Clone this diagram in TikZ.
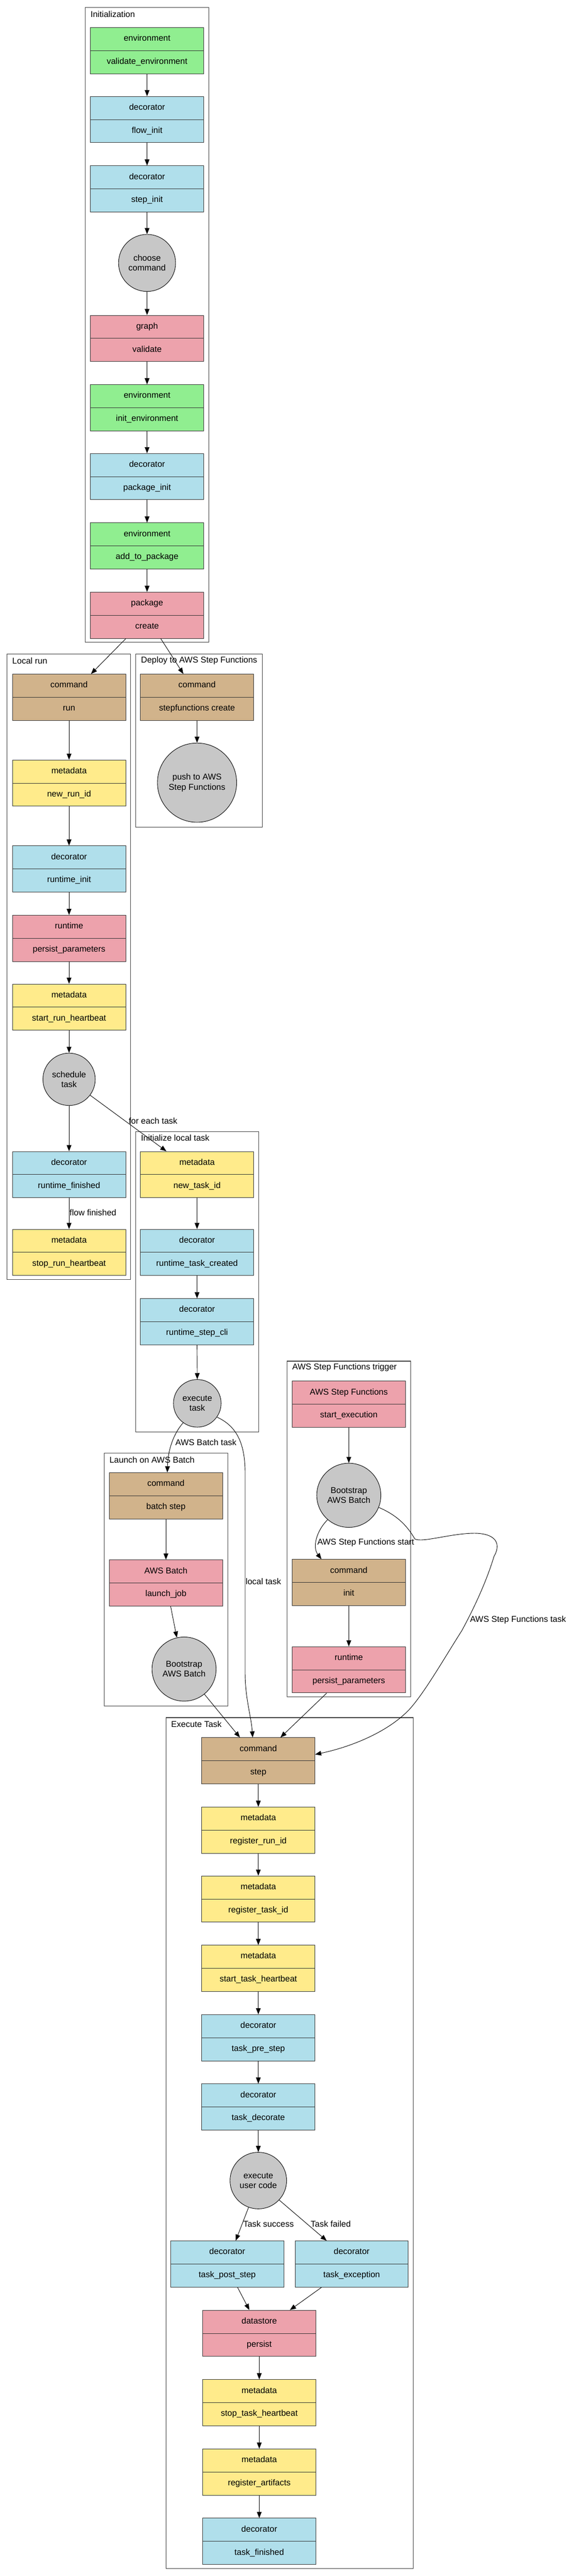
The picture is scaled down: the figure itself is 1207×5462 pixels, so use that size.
\documentclass[tikz,border=0pt]{standalone}
\usepackage{fontspec}
\setmainfont{Liberation Sans}
\usetikzlibrary{arrows.meta,shapes.multipart}

\definecolor{envgreen}{RGB}{144,238,144}
\definecolor{decblue}{RGB}{176,223,235}
\definecolor{rtpink}{RGB}{237,162,172}
\definecolor{cmdtan}{RGB}{209,179,139}
\definecolor{metayellow}{RGB}{255,235,139}
\definecolor{stepgray}{RGB}{199,199,199}

\tikzset{
rec/.style={rectangle split, rectangle split parts=2, draw=black!80, line width=1pt,
  minimum width=240pt, inner xsep=0pt, inner ysep=13.5pt, anchor=north},
act/.style={circle, draw=black, line width=1pt, fill=stepgray, align=center, inner sep=0pt},
flow/.style={-{Triangle[length=13pt,width=10pt]}, line width=1pt},
grp/.style={draw=black!75, line width=1.3pt},
lbl/.style={anchor=west, inner sep=0pt}
}

\begin{document}
\begin{tikzpicture}[x=1pt,y=-1pt,every node/.style={font=\fontsize{18}{21}\selectfont}]
\useasboundingbox (0,0) rectangle (1207,5462);

% clusters
\draw[grp] (181,16) rectangle (443,1362);
\node[lbl] (tInit) at (192,30) {Initialization};
\draw[grp] (15,1387) rectangle (277,2713);
\node[lbl] (tLocal) at (26,1401) {Local run};
\draw[grp] (288,1387) rectangle (557,1754);
\node[lbl] (tDeploy) at (299,1401) {Deploy to AWS Step Functions};
\draw[grp] (288,2399) rectangle (549,3036);
\node[lbl] (tTask) at (299,2413) {Initialize local task};
\draw[grp] (221,3081) rectangle (483,3617);
\node[lbl] (tBatch) at (232,3095) {Launch on AWS Batch};
\draw[grp] (609,2886) rectangle (871,3598);
\node[lbl] (tTrigger) at (620,2900) {AWS Step Functions trigger};
\draw[grp] (352,3642) rectangle (877,5446);
\node[lbl] (tExec) at (363,3656) {Execute Task};

% Initialization
\node[rec, fill=envgreen] (envA) at (312,58) {\strut environment\nodepart{two}\strut validate\_environment};
\node[rec, fill=decblue] (decA) at (312,204) {\strut decorator\nodepart{two}\strut flow\_init};
\node[rec, fill=decblue] (decB) at (312,351) {\strut decorator\nodepart{two}\strut step\_init};
\node[act, minimum size=121pt] (choose) at (312,557.5) {choose\\command};
\node[rec, fill=rtpink] (graphV) at (312,668) {\strut graph\nodepart{two}\strut validate};
\node[rec, fill=envgreen] (envB) at (312,815) {\strut environment\nodepart{two}\strut init\_environment};
\node[rec, fill=decblue] (decC) at (312,961) {\strut decorator\nodepart{two}\strut package\_init};
\node[rec, fill=envgreen] (envC) at (312,1108) {\strut environment\nodepart{two}\strut add\_to\_package};
\node[rec, fill=rtpink] (pkg) at (312,1255) {\strut package\nodepart{two}\strut create};

% Local run
\node[rec, fill=cmdtan] (cmdRun) at (146.5,1429) {\strut command\nodepart{two}\strut run};
\node[rec, fill=metayellow] (newRun) at (146.5,1611) {\strut metadata\nodepart{two}\strut new\_run\_id};
\node[rec, fill=decblue] (rtInit) at (146.5,1793) {\strut decorator\nodepart{two}\strut runtime\_init};
\node[rec, fill=rtpink] (persistP) at (146.5,1940) {\strut runtime\nodepart{two}\strut persist\_parameters};
\node[rec, fill=metayellow] (startHb) at (146.5,2086) {\strut metadata\nodepart{two}\strut start\_run\_heartbeat};
\node[act, minimum size=111pt] (sched) at (146.5,2288.5) {schedule\\task};
\node[rec, fill=decblue] (rtFin) at (146.5,2441) {\strut decorator\nodepart{two}\strut runtime\_finished};
\node[rec, fill=metayellow] (stopHb) at (146.5,2606) {\strut metadata\nodepart{two}\strut stop\_run\_heartbeat};

% Deploy to AWS Step Functions
\node[rec, fill=cmdtan] (cmdSfn) at (418,1429) {\strut command\nodepart{two}\strut stepfunctions create};
\node[act, minimum size=168pt] (pushSfn) at (418,1659.5) {push to AWS\\Step Functions};

% Initialize local task
\node[rec, fill=metayellow] (newTask) at (418,2441) {\strut metadata\nodepart{two}\strut new\_task\_id};
\node[rec, fill=decblue] (rtTask) at (418,2606) {\strut decorator\nodepart{two}\strut runtime\_task\_created};
\node[rec, fill=decblue] (rtCli) at (418,2753) {\strut decorator\nodepart{two}\strut runtime\_step\_cli};
\node[act, minimum size=101pt] (execT) at (418.5,2975.5) {execute\\task};

% Launch on AWS Batch
\node[rec, fill=cmdtan] (cmdBatch) at (352,3122) {\strut command\nodepart{two}\strut batch step};
\node[rec, fill=rtpink] (launchJob) at (352,3307) {\strut AWS Batch\nodepart{two}\strut launch\_job};
\node[act, minimum size=136pt] (bootBatch) at (390.5,3539) {Bootstrap\\AWS Batch};

% AWS Step Functions trigger
\node[rec, fill=rtpink] (sfnStart) at (740,2928) {\strut AWS Step Functions\nodepart{two}\strut start\_execution};
\node[act, minimum size=136pt] (bootSfn) at (740,3170.5) {Bootstrap\\AWS Batch};
\node[rec, fill=cmdtan] (cmdInit) at (740,3306) {\strut command\nodepart{two}\strut init};
\node[rec, fill=rtpink] (persistSfn) at (740,3491) {\strut runtime\nodepart{two}\strut persist\_parameters};

% Execute Task
\node[rec, fill=cmdtan] (cmdStep) at (548,3684) {\strut command\nodepart{two}\strut step};
\node[rec, fill=metayellow] (regRun) at (548,3831) {\strut metadata\nodepart{two}\strut register\_run\_id};
\node[rec, fill=metayellow] (regTask) at (548,3977) {\strut metadata\nodepart{two}\strut register\_task\_id};
\node[rec, fill=metayellow] (startTHb) at (548,4124) {\strut metadata\nodepart{two}\strut start\_task\_heartbeat};
\node[rec, fill=decblue] (preStep) at (548,4271) {\strut decorator\nodepart{two}\strut task\_pre\_step};
\node[rec, fill=decblue] (taskDec) at (548,4418) {\strut decorator\nodepart{two}\strut task\_decorate};
\node[act, minimum size=120pt] (userCode) at (548,4623.5) {execute\\user code};
\node[rec, fill=decblue] (postStep) at (482,4751) {\strut decorator\nodepart{two}\strut task\_post\_step};
\node[rec, fill=decblue] (taskExc) at (746,4751) {\strut decorator\nodepart{two}\strut task\_exception};
\node[rec, fill=rtpink] (persist) at (550,4898) {\strut datastore\nodepart{two}\strut persist};
\node[rec, fill=metayellow] (stopTHb) at (550,5045) {\strut metadata\nodepart{two}\strut stop\_task\_heartbeat};
\node[rec, fill=metayellow] (regArt) at (550,5192) {\strut metadata\nodepart{two}\strut register\_artifacts};
\node[rec, fill=decblue] (taskFin) at (550,5339) {\strut decorator\nodepart{two}\strut task\_finished};

% straight chains
\foreach \a/\b in {envA/decA,decA/decB,decB/choose,choose/graphV,graphV/envB,envB/decC,decC/envC,envC/pkg,
  cmdRun/newRun,newRun/rtInit,rtInit/persistP,persistP/startHb,startHb/sched,sched/rtFin,
  cmdSfn/pushSfn,newTask/rtTask,rtTask/rtCli,rtCli/execT,cmdBatch/launchJob,
  sfnStart/bootSfn,cmdInit/persistSfn,
  cmdStep/regRun,regRun/regTask,regTask/startTHb,startTHb/preStep,preStep/taskDec,taskDec/userCode,
  persist/stopTHb,stopTHb/regArt,regArt/taskFin}
\draw[flow] (\a.south) -- (\b.north);

\draw[flow] ([xshift=-45pt]pkg.south) -- ([xshift=46.5pt]cmdRun.north);
\draw[flow] ([xshift=29pt]pkg.south) -- ([xshift=-29pt]cmdSfn.north);
\draw[flow] (rtFin.south) -- (stopHb.north);
\node[lbl] (lFin) at (147.5,2571) {flow finished};
\draw[flow] (sched.-37) -- ([xshift=-65pt]newTask.north);
\node[lbl] (lEach) at (273,2377) {for each task};

\draw[flow] (execT.234) .. controls (368,3040) and (356,3075) .. ([xshift=3pt]cmdBatch.north);
\node[lbl] (lBatch) at (372,3058) {AWS Batch task};
\draw[flow] (execT.-35) .. controls (505,3025) and (520,3065) .. (520,3124) -- (520,3548)
  .. controls (520,3600) and (533,3640) .. ([xshift=-12pt]cmdStep.north);
\node[lbl] (lLocal) at (521,3353) {local task};
\draw[flow] ([xshift=10pt]launchJob.south) -- (bootBatch.103);
\draw[flow] (bootBatch.-51) -- ([xshift=-39pt]cmdStep.north);

\draw[flow] (bootSfn.229) .. controls (672,3245) and (662,3280) .. ([xshift=-58pt]cmdInit.north);
\node[lbl] (lStart) at (673,3271) {AWS Step Functions start};
\draw[flow] (bootSfn.-22) .. controls (840,3212) and (862,3232) .. (880,3263)
  .. controls (895,3272) and (960,3250) .. (1010,3251)
  .. controls (1060,3253) and (1060,3280) .. (1048,3300)
  .. controls (1030,3360) and (1000,3420) .. (980,3457)
  .. controls (940,3520) and (900,3590) .. (868,3625)
  .. controls (820,3675) and (740,3705) .. ([yshift=-36pt]cmdStep.north east);
\node[lbl] (lTask) at (997,3435) {AWS Step Functions task};
\draw[flow] ([xshift=-47pt]persistSfn.south) -- ([xshift=47pt]cmdStep.north);

\draw[flow] (userCode.250) -- ([xshift=18pt]postStep.north);
\node[lbl] (lOk) at (516,4715) {Task success};
\draw[flow] (userCode.-43) -- ([xshift=-53pt]taskExc.north);
\node[lbl] (lFail) at (659,4715) {Task failed};
\draw[flow] ([xshift=22pt]postStep.south) -- ([xshift=-21pt]persist.north);
\draw[flow] ([xshift=-64pt]taskExc.south) -- ([xshift=65pt]persist.north);
\end{tikzpicture}
\end{document}
